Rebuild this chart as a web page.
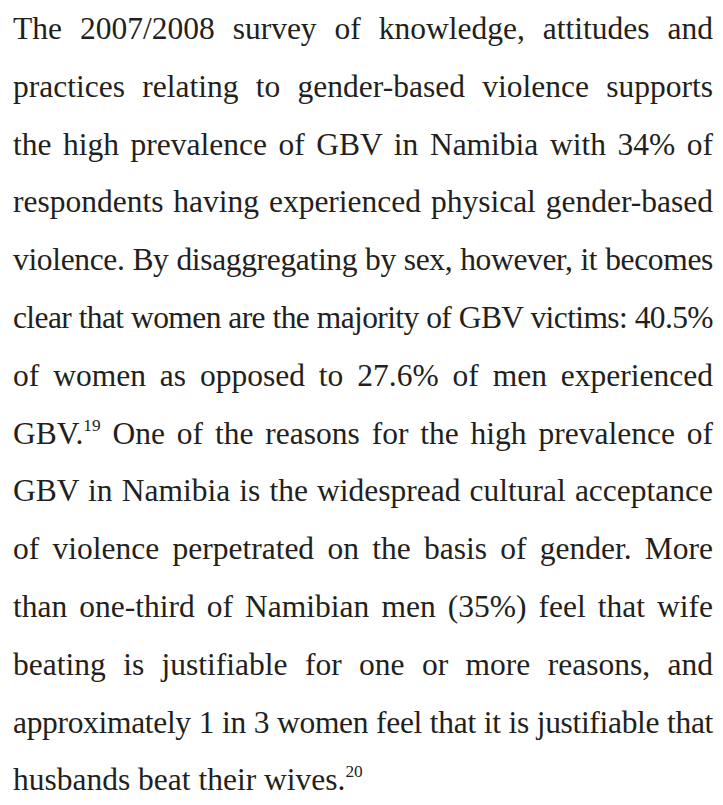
<!DOCTYPE html>
<html>
<head>
<meta charset="utf-8">
<script src="https://cdn.jsdelivr.net/npm/chart.js@4"></script>
<style>
  html, body { margin: 0; padding: 0; background: #fff; }
  body { width: 723px; height: 805px; overflow: hidden; }
  #page {
    position: absolute; left: 13px; top: 0px; width: 700px;
    font-family: "Liberation Serif", "DejaVu Serif", serif;
    font-size: 31.5px; line-height: 57.8px; color: #231f20;
  }
  .ln { text-align: justify; text-align-last: justify; white-space: nowrap; }
  .ln.last { text-align-last: left; }
  sup { font-size: 0.55em; line-height: 0; vertical-align: 0.75em; }
</style>
</head>
<body>
<div id="page"></div>
<script>
// lines of the paragraph, broken as in the original
const lines = [
  'The 2007/2008 survey of knowledge, attitudes and',
  'practices relating to gender-based violence supports',
  'the high prevalence of GBV in Namibia with 34% of',
  'respondents having experienced physical gender-based',
  'violence. By disaggregating by sex, however, it becomes',
  'clear that women are the majority of GBV victims: 40.5%',
  'of women as opposed to 27.6% of men experienced',
  'GBV.<sup>19</sup> One of the reasons for the high prevalence of',
  'GBV in Namibia is the widespread cultural acceptance',
  'of violence perpetrated on the basis of gender. More',
  'than one-third of Namibian men (35%) feel that wife',
  'beating is justifiable for one or more reasons, and',
  'approximately 1 in 3 women feel that it is justifiable that',
  'husbands beat their wives.<sup>20</sup>'
];

const page = document.getElementById('page');
lines.forEach((txt, i) => {
  const div = document.createElement('div');
  div.className = 'ln' + (i === lines.length - 1 ? ' last' : '');
  div.innerHTML = txt;
  page.appendChild(div);
  // squeeze a line a little if it is wider than the column
  if (div.scrollWidth > 700) {
    const n = txt.replace(/<[^>]+>/g, '').length;
    div.style.letterSpacing = ((700 - div.scrollWidth) / n - 0.05).toFixed(2) + 'px';
  }
});
</script>
</body>
</html>
